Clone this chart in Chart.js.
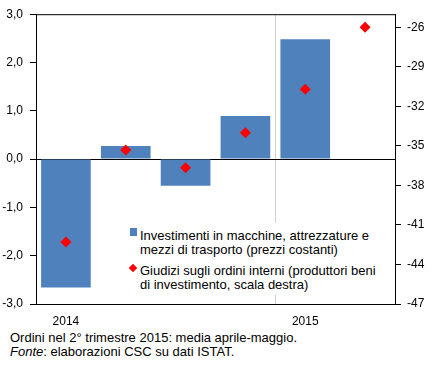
<!DOCTYPE html>
<html>
<head>
<meta charset="utf-8">
<script src="https://cdn.jsdelivr.net/npm/chart.js@4/dist/chart.umd.min.js"></script>
<style>
  body { margin: 0; background: #fff; font-family: "Liberation Sans", Arial, sans-serif; color: #000; }
  #wrap { position: absolute; left: 0; top: 0; width: 436px; height: 330px; }
  #legenda { position: absolute; left: 127px; top: 223px; width: 252px; height: 72px; background: #fff; font-size: 13px; line-height: 14px; }
  .voce { position: absolute; left: 13px; white-space: nowrap; }
  .quadrato { position: absolute; left: 3px; top: 5px; width: 7px; height: 8px; background: #4F81BD; }
  .rombo { position: absolute; left: 3px; top: 42px; width: 6px; height: 6px; background: #FF0000; transform: rotate(45deg); }
  #note { position: absolute; left: 10px; top: 331px; font-size: 13px; line-height: 14px; white-space: nowrap; }
</style>
</head>
<body>
<div id="wrap"><canvas id="grafico"></canvas></div>
<div id="legenda">
  <div class="quadrato"></div>
  <div class="voce" style="top:6px">Investimenti in macchine, attrezzature e<br>mezzi di trasporto (prezzi costanti)</div>
  <div class="rombo"></div>
  <div class="voce" style="top:41px">Giudizi sugli ordini interni (produttori beni<br>di investimento, scala destra)</div>
</div>
<div id="note">Ordini nel 2° trimestre 2015: media aprile-maggio.<br><i>Fonte</i>: elaborazioni CSC su dati ISTAT.</div>
<script>
const trimestri = ['I 2014', 'II 2014', 'III 2014', 'IV 2014', 'I 2015', 'II 2015'];
const etichetteX = ['2014', '', '', '', '2015', ''];
const investimenti = [-2.66, 0.27, -0.55, 0.89, 2.48, null];
const giudizi = [-42.3, -35.3, -36.65, -34.0, -30.7, -26.0];
const tickDestra = [-47, -44, -41, -38, -35, -32, -29, -26];

const bordoArea = {
    id: 'bordoArea',
    afterDatasetsDraw(chart) {
        const a = chart.chartArea;
        const ctx = chart.ctx;
        ctx.save();
        ctx.strokeStyle = '#000';
        ctx.lineWidth = 1;
        ctx.beginPath();
        ctx.moveTo(a.left, a.top + 0.5);
        ctx.lineTo(a.right, a.top + 0.5);
        ctx.stroke();
        ctx.restore();
    }
};

const font = { family: '"Liberation Sans", Arial, sans-serif', size: 12 };

new Chart(document.getElementById('grafico'), {
    data: {
        labels: trimestri,
        datasets: [
            {
                type: 'line',
                label: 'Giudizi sugli ordini interni',
                data: giudizi,
                yAxisID: 'y1',
                showLine: false,
                pointStyle: 'rectRot',
                pointRadius: 5.5,
                pointBorderWidth: 0,
                backgroundColor: '#FF0000',
                borderColor: '#FF0000',
                order: 0
            },
            {
                type: 'bar',
                label: 'Investimenti',
                data: investimenti,
                yAxisID: 'y',
                backgroundColor: '#4F81BD',
                categoryPercentage: 1,
                barPercentage: 0.83,
                order: 1
            }
        ]
    },
    options: {
        responsive: true,
        maintainAspectRatio: false,
        animation: false,
        layout: { padding: { top: 11, left: 0, right: 0, bottom: 0 } },
        plugins: { legend: { display: false }, tooltip: { enabled: false } },
        scales: {
            x: {
                offset: true,
                grid: {
                    offset: true,
                    drawTicks: false,
                    color: (c) => c.index === 4 ? '#D0D0D0' : 'rgba(0,0,0,0)'
                },
                border: { color: '#000', width: 1 },
                ticks: {
                    font: font,
                    color: '#000',
                    padding: 10,
                    autoSkip: false,
                    maxRotation: 0,
                    callback: (v, i) => etichetteX[i]
                },
                afterFit: (s) => { s.height = 26; }
            },
            y: {
                position: 'left',
                min: -3,
                max: 3,
                grid: {
                    color: (c) => c.tick && c.tick.value === 0 ? '#000' : 'rgba(0,0,0,0)',
                    tickColor: '#000',
                    tickLength: 6
                },
                border: { color: '#000', width: 1 },
                ticks: {
                    stepSize: 1,
                    font: font,
                    color: '#000',
                    padding: 7,
                    callback: (v) => v.toFixed(1).replace('.', ',')
                },
                afterFit: (s) => { s.width = 36; }
            },
            y1: {
                position: 'right',
                min: -47,
                max: -25,
                grid: {
                    drawOnChartArea: false,
                    tickColor: '#000',
                    tickLength: 6
                },
                border: { color: '#000', width: 1 },
                afterBuildTicks: (s) => { s.ticks = tickDestra.map((v) => ({ value: v })); },
                ticks: {
                    font: font,
                    color: '#000',
                    padding: 6,
                    callback: (v) => String(v)
                },
                afterFit: (s) => { s.width = 41; }
            }
        }
    },
    plugins: [bordoArea]
});
</script>
</body>
</html>
